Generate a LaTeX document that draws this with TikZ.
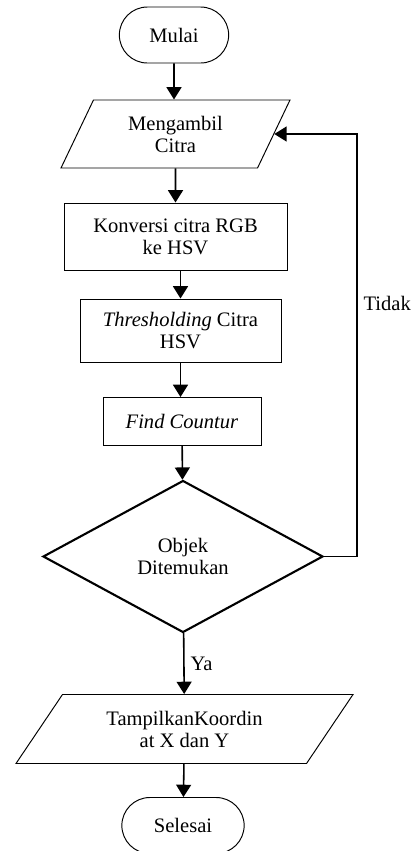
\documentclass[tikz,border=0pt]{standalone}
\usepackage{fontspec}
\setmainfont{Liberation Serif}
\usetikzlibrary{arrows.meta,shapes.geometric,shapes.misc}

\begin{document}
\begin{tikzpicture}[node distance = 2cm, line width=0.55pt,
    every node/.style={font=\fontsize{11.7}{12.5}\selectfont, align=center},
    terminal/.style={rounded rectangle, draw=black, minimum width=2.42cm, minimum height=1.12cm},
    io/.style={trapezium, draw=black, trapezium stretches body, trapezium left angle=56, trapezium right angle=124, minimum width=4.58cm, minimum height=1.36cm},
    process/.style={rectangle, draw=black},
    decision/.style={diamond, draw=black, line width=1.2pt, aspect=1.84, minimum width=5.6cm, minimum height=3.04cm},
    flow/.style={-{Triangle[length=7pt, width=8.5pt]}, line width=0.9pt}]
  \useasboundingbox (0,0) rectangle (8.3,-17.02);

  \node[terminal] at (3.48,-0.7) (start) {Mulai};
  \node[io, below of = start, node distance = 1.98cm, xshift = 0.03cm] (citra) {Mengambil\\Citra};
  \node[process, below of = citra, node distance = 2.05cm, minimum width = 4.46cm, minimum height = 1.34cm] (hsv) {Konversi citra RGB\\ke HSV};
  \node[process, below of = hsv, node distance = 1.88cm, xshift = 0.1cm, minimum width = 4.02cm, minimum height = 1.26cm] (thresh) {\textit{Thresholding} Citra\\HSV};
  \node[process, below of = thresh, node distance = 1.82cm, xshift = 0.03cm, minimum width = 3.16cm, minimum height = 0.96cm] (contour) {\textit{Find Countur}};
  \node[decision, below of = contour, node distance = 2.7cm, xshift = 0.02cm] (found) {Objek\\Ditemukan};
  \node[io, below of = found, node distance = 3.45cm, xshift = 0.03cm, trapezium left angle=46, trapezium right angle=134, minimum width = 6.74cm, minimum height = 1.38cm] (coord) {TampilkanKoordin\\at X dan Y};
  \node[terminal, below of = coord, node distance = 1.93cm, xshift = -0.03cm, minimum width = 2.68cm] (stop) {Selesai};

  \draw[flow] (start) -- (start |- citra.north);
  \draw[flow] (citra) -- (citra |- hsv.north);
  \draw[flow] (thresh.north |- hsv.south) -- (thresh.north);
  \draw[flow] (thresh.south) -- (thresh.south |- contour.north);
  \draw[flow] (contour) -- (found);
  \draw[flow] (found) -- node[right] {Ya} (coord);
  \draw[flow] (coord) -- (stop);
  \draw[flow, line width=0.8pt] (found.east) -- ++(0.66,0) |- node[right, pos=0.3] {Tidak} (citra.east);

\end{tikzpicture}
\end{document}
